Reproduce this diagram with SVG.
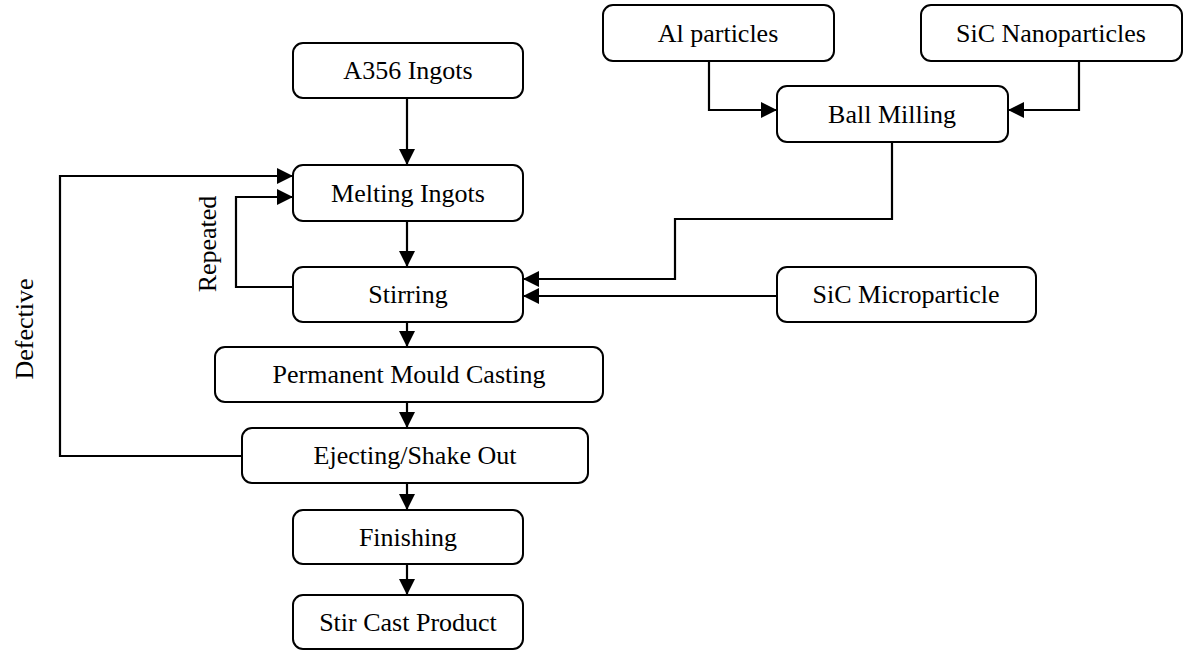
<svg xmlns="http://www.w3.org/2000/svg" width="1184" height="650" viewBox="0 0 1184 650">
<style>
.box{fill:#fff;stroke:#000;stroke-width:2}
.lbl{font-family:"Liberation Serif","Times New Roman",serif;font-size:26px;fill:#000;text-anchor:middle}
.c{fill:none;stroke:#000;stroke-width:2.2}
.a{marker-end:url(#ah)}
</style>
<defs>
<marker id="ah" markerUnits="userSpaceOnUse" markerWidth="17" markerHeight="16" refX="16" refY="8" orient="auto">
<path d="M0,0 L16,8 L0,16 Z" fill="#000"/>
</marker>
</defs>
<rect width="1184" height="650" fill="#fff"/>
<g id="connectors">
<line class="c a" x1="407" y1="98" x2="407" y2="165"/>
<line class="c a" x1="407" y1="221" x2="407" y2="267"/>
<line class="c a" x1="407" y1="322" x2="407" y2="347"/>
<line class="c a" x1="407" y1="402" x2="407" y2="428"/>
<line class="c a" x1="407" y1="483" x2="407" y2="510"/>
<line class="c a" x1="407" y1="564" x2="407" y2="595"/>
<polyline class="c a" points="242,456 60,456 60,176 293,176"/>
<polyline class="c a" points="293,287 236,287 236,197 293,197"/>
<polyline class="c a" points="709,61 709,110 777,110"/>
<polyline class="c a" points="1079,61 1079,110 1008,110"/>
<polyline class="c a" points="892,142 892,219 675,219 675,279 523,279"/>
<line class="c a" x1="777" y1="296" x2="523" y2="296"/>
<text class="lbl" transform="translate(33,329) rotate(-90)">Defective</text>
<text class="lbl" transform="translate(216,244) rotate(-90)">Repeated</text>
</g>
<g id="a356"><rect class="box" x="293" y="43" width="230" height="55" rx="10"/><text class="lbl" x="408" y="79">A356 Ingots</text></g>
<g id="melting"><rect class="box" x="293" y="165" width="230" height="56" rx="10"/><text class="lbl" x="408" y="202">Melting Ingots</text></g>
<g id="stirring"><rect class="box" x="293" y="267" width="230" height="55" rx="10"/><text class="lbl" x="408" y="303">Stirring</text></g>
<g id="permanent"><rect class="box" x="215" y="347" width="388" height="55" rx="10"/><text class="lbl" x="409" y="383">Permanent Mould Casting</text></g>
<g id="ejecting"><rect class="box" x="242" y="428" width="346" height="55" rx="10"/><text class="lbl" x="415" y="464">Ejecting/Shake Out</text></g>
<g id="finishing"><rect class="box" x="293" y="510" width="230" height="54" rx="10"/><text class="lbl" x="408" y="546">Finishing</text></g>
<g id="product"><rect class="box" x="293" y="595" width="230" height="54" rx="10"/><text class="lbl" x="408" y="631">Stir Cast Product</text></g>
<g id="al"><rect class="box" x="603" y="5" width="231" height="56" rx="10"/><text class="lbl" x="718" y="42">Al particles</text></g>
<g id="sicnano"><rect class="box" x="921" y="5" width="261" height="56" rx="10"/><text class="lbl" x="1051" y="42">SiC Nanoparticles</text></g>
<g id="ballmilling"><rect class="box" x="777" y="86" width="231" height="56" rx="10"/><text class="lbl" x="892" y="123">Ball Milling</text></g>
<g id="sicmicro"><rect class="box" x="777" y="267" width="259" height="55" rx="10"/><text class="lbl" x="906" y="303">SiC Microparticle</text></g>
</svg>
